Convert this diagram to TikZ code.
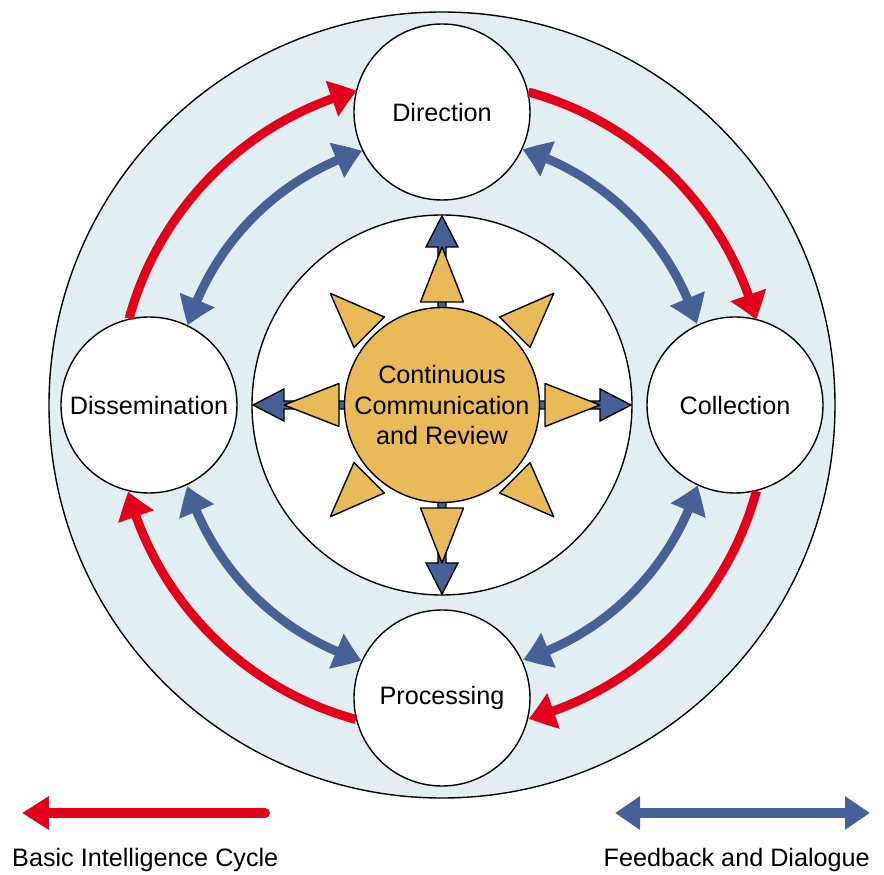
\documentclass[tikz,border=0pt]{standalone}
\usepackage{fontspec}
\setmainfont{Liberation Sans}
\usetikzlibrary{arrows.meta,bending}
\definecolor{ringblue}{RGB}{226,239,242}
\definecolor{cyclered}{RGB}{226,0,26}
\definecolor{talkblue}{RGB}{72,96,152}
\definecolor{sunorange}{RGB}{233,186,88}
\tikzstyle{every node}=[font=\fontsize{25.2}{30.5}\selectfont]
\tikzstyle{outline}=[draw=black,line width=1.4pt]
\tikzstyle{phase}=[outline,circle,fill=white,minimum size=176pt,inner sep=0pt]
\tikzstyle{cyclearrow}=[draw=cyclered,line width=9pt,-{Triangle[length=26pt,width=36pt,bend]}]
\tikzstyle{feedback}=[draw=talkblue,line width=9pt,{Triangle[length=27pt,width=36pt,bend]}-{Triangle[length=27pt,width=36pt,bend]}]
\tikzstyle{ray}=[outline,fill=sunorange,line join=round]
\tikzstyle{spoke}=[outline,fill=talkblue]

\begin{document}
\begin{tikzpicture}[x=1pt,y=1pt]
\useasboundingbox (-442,-470) rectangle (442,405);
%rings
\draw[outline,fill=ringblue] (0,0) circle (393);
\draw[outline,fill=white] (0,0) circle (190);
%spokes
\foreach \t in {0,90,180,270}
\draw[spoke,rotate=\t] (95,-4) -- (158,-4) -- (158,-16) -- (189,0) -- (158,16) -- (158,4) -- (95,4) -- cycle;
%rays
\foreach \t in {0,45,...,315}
\draw[ray,rotate=\t] (158,0) -- (103,21.5) -- (103,-21.5) -- cycle;
%hub
\node[outline,circle,fill=sunorange,minimum size=195pt,inner sep=0pt,align=center] (review) at (0,0)
{Continuous\\Communication\\and Review};
%phases
\node[phase] (direction) at (90:293) {Direction};
\node[phase] (collection) at (0:293) {Collection};
\node[phase] (processing) at (270:293) {Processing};
\node[phase] (dissemination) at (180:293) {Dissemination};
%cycle
\foreach \from/\a in {direction/90,collection/0,processing/-90,dissemination/180}
{
\pgfmathsetmacro\s{\a-76.6}
\draw[cyclearrow] (\from.\s) arc[start angle=\a-15.3, end angle=\a-74.7, radius=325];
}
%feedback
\foreach \from/\a in {direction/90,collection/0,processing/-90,dissemination/180}
{
\pgfmathsetmacro\s{\a-115.6}
\draw[feedback] (\from.\s) arc[start angle=\a-17.5, end angle=\a-72.5, radius=267];
}
%legend
\coordinate (cycle tail) at (-177,-408);
\coordinate (cycle head) at (-420,-408);
\draw[cyclered,line width=10pt,line cap=round,-{Triangle[length=27pt,width=32pt]}] (cycle tail) -- (cycle head);
\node[anchor=base west,inner sep=0pt] (cycle label) at (-430,-461) {Basic Intelligence Cycle};
\coordinate (talk left) at (173,-408);
\coordinate (talk right) at (428,-408);
\draw[talkblue,line width=10pt,{Triangle[length=25pt,width=32pt]}-{Triangle[length=25pt,width=32pt]}] (talk left) -- (talk right);
\node[anchor=base east,inner sep=0pt] (talk label) at (428,-461) {Feedback and Dialogue};
\end{tikzpicture}
\end{document}
